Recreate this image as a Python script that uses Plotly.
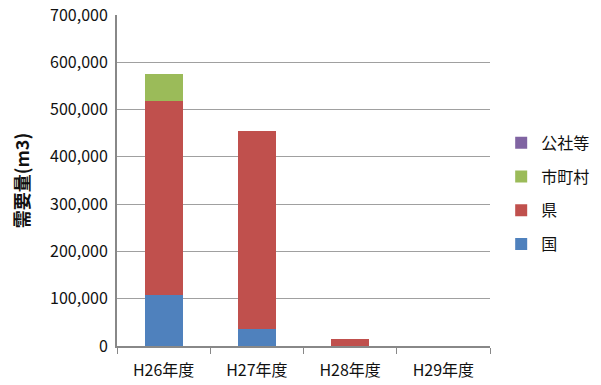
import plotly.graph_objects as go

categories = ["H26年度", "H27年度", "H28年度", "H29年度"]
kuni = [107000, 35000, 0, 0]
ken = [411000, 420000, 15500, 0]
shichoson = [57000, 0, 0, 0]
kosha = [0, 0, 0, 0]
y_ticks = [0, 100000, 200000, 300000, 400000, 500000, 600000, 700000]

series = [
    ("国", kuni, "#4F81BD"),
    ("県", ken, "#C0504D"),
    ("市町村", shichoson, "#9BBB59"),
    ("公社等", kosha, "#8064A2"),
]

fig = go.Figure()
for i, (name, vals, color) in enumerate(series):
    fig.add_trace(go.Bar(x=categories, y=vals, name=name, marker_color=color,
                         marker_line_width=0, legendgroup=name,
                         legendrank=1000 - i))

font_family = "Noto Sans CJK JP"
fig.update_layout(
    barmode="stack",
    bargap=0.59,
    width=601, height=385,
    margin=dict(l=117, r=111, t=15, b=39, autoexpand=False),
    paper_bgcolor="white", plot_bgcolor="white",
    font=dict(family=font_family, size=14, color="#111111"),
    legend=dict(traceorder="grouped", x=1.03, y=0.46, xanchor="left", yanchor="middle",
                font=dict(size=16), tracegroupgap=10,
                itemsizing="constant"),
)
fig.update_xaxes(
    automargin=False,
    showline=True, linecolor="#888888", linewidth=2,
    ticks="outside", tickson="boundaries", ticklen=6, tickcolor="#888888",
    ticklabelstandoff=9,
    tickfont=dict(size=16, family=font_family),
)
fig.update_yaxes(
    automargin=False,
    range=[0, 700000], tickvals=y_ticks,
    ticktext=[f"{v:,}" for v in y_ticks],
    showgrid=True, gridcolor="#A0A0A0", gridwidth=1,
    showline=True, linecolor="#888888", linewidth=2,
    ticks="", ticklabelstandoff=4,
    tickfont=dict(size=16, family=font_family),
    title=dict(text="<b>需要量(m3)</b>", font=dict(size=18, family=font_family), standoff=16),
    zeroline=False,
)
fig.write_html("out.html", config={"displayModeBar": False},
               post_script="document.body.style.margin='0';")
